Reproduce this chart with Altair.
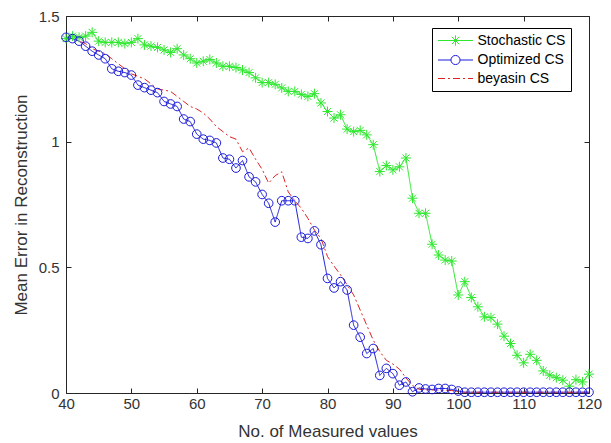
import altair as alt
import pandas as pd

# ---------------- data ----------------
x_vals = list(range(40, 121))

stochastic = [1.41, 1.42, 1.415, 1.42, 1.435, 1.40, 1.395, 1.395, 1.395, 1.39,
              1.395, 1.41, 1.385, 1.38, 1.375, 1.365, 1.355, 1.37, 1.345, 1.33,
              1.313, 1.32, 1.327, 1.313, 1.30, 1.30, 1.295, 1.285, 1.275, 1.254,
              1.235, 1.235, 1.228, 1.214, 1.20, 1.20, 1.188, 1.18, 1.191, 1.154,
              1.12, 1.094, 1.107, 1.05, 1.04, 1.045, 1.027, 0.988, 0.881, 0.905,
              0.888, 0.90, 0.935, 0.775, 0.715, 0.715, 0.592, 0.549, 0.529, 0.525,
              0.39, 0.443, 0.38, 0.343, 0.303, 0.30, 0.274, 0.226, 0.197, 0.15,
              0.12, 0.154, 0.13, 0.088, 0.071, 0.061, 0.051, 0.027, 0.053, 0.044,
              0.075]

optimized = [1.415, 1.41, 1.40, 1.38, 1.36, 1.345, 1.33, 1.29, 1.28, 1.275,
             1.265, 1.225, 1.215, 1.205, 1.195, 1.16, 1.15, 1.14, 1.09, 1.08,
             1.03, 1.01, 1.005, 0.995, 0.935, 0.93, 0.895, 0.925, 0.86, 0.84,
             0.79, 0.755, 0.68, 0.765, 0.765, 0.765, 0.62, 0.615, 0.645, 0.59,
             0.456, 0.418, 0.443, 0.41, 0.27, 0.222, 0.157, 0.177, 0.07, 0.098,
             0.077, 0.031, 0.044, 0.005, 0.02, 0.016, 0.014, 0.018, 0.018, 0.014,
             0.008, 0.003, 0.003, 0.003, 0.003, 0.003, 0.003, 0.003, 0.003, 0.003,
             0.003, 0.003, 0.003, 0.003, 0.003, 0.003, 0.003, 0.003, 0.003, 0.003,
             0.003]

beyasin = [1.41, 1.41, 1.40, 1.39, 1.37, 1.36, 1.35, 1.33, 1.31, 1.29,
           1.27, 1.26, 1.25, 1.23, 1.21, 1.205, 1.20, 1.18, 1.16, 1.14,
           1.13, 1.114, 1.09, 1.06, 1.04, 1.02, 1.01, 0.96, 0.975, 0.93,
           0.89, 0.835, 0.865, 0.88, 0.80, 0.765, 0.735, 0.695, 0.648, 0.615,
           0.543, 0.505, 0.47, 0.43, 0.39, 0.33, 0.27, 0.21, 0.165, 0.13,
           0.115, 0.095, 0.06, 0.03, 0.015, 0.012, 0.012, 0.012, 0.01, 0.01,
           0.005, 0.003, 0.003, 0.003, 0.003, 0.003, 0.003, 0.003, 0.003, 0.003,
           0.003, 0.003, 0.003, 0.003, 0.003, 0.003, 0.003, 0.003, 0.003, 0.003,
           0.003]

series_names = ["Stochastic CS", "Optimized CS", "beyasin CS"]
x_ticks = [40, 50, 60, 70, 80, 90, 100, 110, 120]
y_ticks = [0, 0.5, 1, 1.5]

# ---------------- styles ----------------
colors = ["#2ee82e", "#1a1ad9", "#dd2222"]
dashes = [[1, 0], [1, 0], [7, 3, 2, 3]]
FONT = "Liberation Sans"
TXT = "#333333"
W, H = 523, 377

STAR = "M-1,0L1,0M0,-1L0,1M-0.7,-0.7L0.7,0.7M-0.7,0.7L0.7,-0.7"
# legend glyphs: short line with marker, drawn to the right of the symbol anchor
LEG_PATHS = [
    "M-1,0L4.385,0M0.892,0L2.492,0M1.692,-0.8L1.692,0.8"
    "M1.126,-0.566L2.258,0.566M1.126,0.566L2.258,-0.566",
    "M-1,0L0.992,0M2.392,0L4.385,0M0.992,0A0.7,0.7 0 1,1 2.392,0A0.7,0.7 0 1,1 0.992,0",
    "M-1,0L0.077,0M0.538,0L0.846,0M1.308,0L2.385,0M2.846,0L3.154,0M3.615,0L4.385,0",
]

rows = []
for name, vals in zip(series_names, [stochastic, optimized, beyasin]):
    for xv, yv in zip(x_vals, vals):
        rows.append({"n": xv, "err": yv, "series": name})
df = pd.DataFrame(rows)

xs = alt.Scale(domain=[40, 120], nice=False, zero=False)
ys = alt.Scale(domain=[0, 1.5], nice=False, zero=False)

X = alt.X("n:Q", scale=xs,
          axis=alt.Axis(values=x_ticks, title="No. of Measured values",
                        grid=True, gridDash=[5, H - 10], gridColor="#262626",
                        gridOpacity=1, gridWidth=1, ticks=False, domain=False,
                        labelFlush=False, labelOverlap=False, labelPadding=3,
                        labelFont=FONT, labelFontSize=15, labelColor=TXT,
                        titleFont=FONT, titleFontSize=17, titleColor=TXT,
                        titleFontWeight="normal", titlePadding=12))
Y = alt.Y("err:Q", scale=ys,
          axis=alt.Axis(values=y_ticks, format="~g", title="Mean Error in Reconstruction",
                        grid=True, gridDash=[5, W - 10], gridColor="#262626",
                        gridOpacity=1, gridWidth=1, ticks=False, domain=False,
                        labelFlush=False, labelOverlap=False, labelPadding=7,
                        labelFont=FONT, labelFontSize=15, labelColor=TXT,
                        titleFont=FONT, titleFontSize=17, titleColor=TXT,
                        titleFontWeight="normal", titlePadding=8))

base = alt.Chart(df)

layers = []
for name, col, dash in zip(series_names, colors, dashes):
    layers.append(
        base.transform_filter(alt.datum.series == name)
        .mark_line(strokeWidth=1, color=col, strokeDash=dash)
        .encode(x=X, y=Y)
    )

layers.append(
    base.transform_filter(alt.datum.series == "Stochastic CS").mark_point(
        shape=STAR, size=100, filled=False, strokeWidth=1, opacity=1, color=colors[0]
    ).encode(x=X, y=Y)
)
layers.append(
    base.transform_filter(alt.datum.series == "Optimized CS").mark_point(
        shape="circle", size=75, filled=False, strokeWidth=1, opacity=1, color=colors[1]
    ).encode(x=X, y=Y)
)

leg_common = dict(title=None, orient="none", legendX=366, legendY=12,
                  symbolSize=169, symbolStrokeWidth=1, labelOffset=26,
                  labelFont=FONT, labelFontSize=14, labelColor="black",
                  padding=5.5, rowPadding=4.5, strokeColor="black",
                  fillColor="white", symbolOpacity=1)

# legend entries only (no rows reach this layer; the legend comes from the scale domains)
layers.append(
    base.transform_filter("false").mark_point(
        filled=False, strokeWidth=1, opacity=1
    ).encode(
        x=X, y=Y,
        color=alt.Color("series:N", scale=alt.Scale(domain=series_names, range=colors),
                        legend=alt.Legend(**leg_common)),
        shape=alt.Shape("series:N", scale=alt.Scale(domain=series_names, range=LEG_PATHS),
                        legend=alt.Legend(**leg_common)),
    )
)

chart = alt.layer(*layers).properties(
    width=W, height=H,
    autosize=alt.AutoSizeParams(type="none"),
    padding={"left": 58, "top": 8, "right": 14, "bottom": 50},
    background="white",
).configure_view(stroke="#262626", strokeWidth=1)

chart.save("out.html", embed_options={"renderer": "svg", "actions": False})
